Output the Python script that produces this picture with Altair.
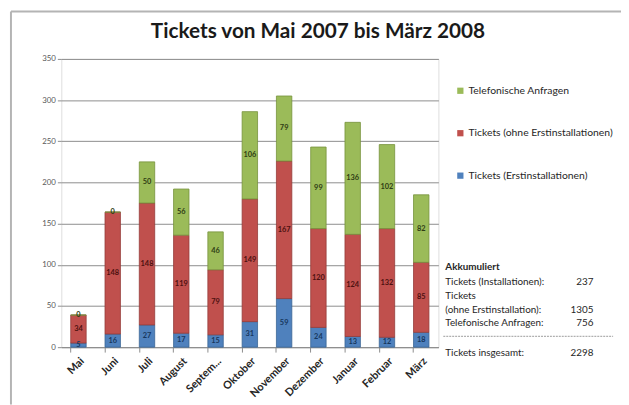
import altair as alt
import pandas as pd

months = ["Mai", "Juni", "Juli", "August", "September", "Oktober",
          "November", "Dezember", "Januar", "Februar", "März"]
erst = [5, 16, 27, 17, 15, 31, 59, 24, 13, 12, 18]
ohne = [34, 148, 148, 119, 79, 149, 167, 120, 124, 132, 85]
tel = [0, 0, 50, 56, 46, 106, 79, 99, 136, 102, 82]

series = ["Tickets (Erstinstallationen)", "Tickets (ohne Erstinstallationen)", "Telefonische Anfragen"]
colors = ["#4F81BD", "#C0504D", "#9BBB59"]
strokes = ["#3A6595", "#953B39", "#76923C"]
label_colors = ["#17375E", "#4D1010", "#2F3D14"]
y_ticks = [0, 50, 100, 150, 200, 250, 300, 350]
title_text = "Tickets von Mai 2007 bis März 2008"

rows = []
for i, m in enumerate(months):
    for k, vals in enumerate([erst, ohne, tel]):
        rows.append({"Monat": m, "Serie": series[k], "Wert": vals[i], "ord": k})
df = pd.DataFrame(rows)

FONT = "Lato"
W, H = 382, 292
leg_domain = list(reversed(series))

xenc = alt.X("Monat:N", sort=months,
             scale=alt.Scale(paddingInner=0.55, paddingOuter=0.275),
             axis=alt.Axis(title=None, labelAngle=-45, labelFontWeight="bold",
                           labelFontSize=11, labelColor="#262626", labelFont=FONT,
                           bandPosition=0, tickSize=5, tickColor="#8c8c8c",
                           domainColor="#8c8c8c", labelPadding=3,
                           labelExpr="datum.value == 'September' ? 'Septem...' : datum.value"))

base = alt.Chart(df).transform_stack(
    stack="Wert", groupby=["Monat"], as_=["y0", "y1"], sort=[alt.SortField("ord", order="ascending")]
).transform_calculate(mid="(datum.y0 + datum.y1) / 2")

bars = base.mark_bar(strokeWidth=0.8).encode(
    x=xenc,
    y=alt.Y("y0:Q", scale=alt.Scale(domain=[0, 350]),
            axis=alt.Axis(title=None, values=y_ticks, grid=True, gridColor="#8c8c8c",
                          labelFontSize=8, labelColor="#595959", labelFont=FONT,
                          tickSize=4, tickColor="#8c8c8c", domain=False, labelPadding=2)),
    y2="y1:Q",
    color=alt.Color("Serie:N", scale=alt.Scale(domain=leg_domain, range=list(reversed(colors))),
                    legend=alt.Legend(title=None, orient="none", legendX=399, legendY=27,
                                      symbolType="square", symbolSize=40, symbolStrokeWidth=0,
                                      labelFontSize=10.5, labelFont=FONT, labelColor="#262626",
                                      labelOffset=3, rowPadding=32, labelLimit=300)),
    stroke=alt.Stroke("Serie:N", scale=alt.Scale(domain=series, range=strokes), legend=None),
)

labels = base.mark_text(fontSize=7.5, fontWeight="bold", font=FONT).encode(
    x=alt.X("Monat:N", sort=months),
    y=alt.Y("mid:Q"),
    text=alt.Text("Wert:Q"),
    fill=alt.Fill("Serie:N", scale=alt.Scale(domain=series, range=label_colors), legend=None),
)

one = pd.DataFrame({"a": [0]})
AX = 389
NX = 539
ann_lines = [
    ("Akkumuliert", None, 211, "bold"),
    ("Tickets (Installationen):", sum(erst), 226, "normal"),
    ("Tickets", None, 240, "normal"),
    ("(ohne  Erstinstallation):", sum(ohne), 254, "normal"),
    ("Telefonische Anfragen:", sum(tel), 268, "normal"),
    ("Tickets insgesamt:", sum(erst) + sum(ohne) + sum(tel), 298, "normal"),
]
ann = []
for txt, num, yy, fw in ann_lines:
    ann.append(alt.Chart(one).mark_text(align="left", baseline="middle", fontSize=10,
                                        font=FONT, fontWeight=fw, color="#262626", text=txt)
               .encode(x=alt.value(AX), y=alt.value(yy)))
    if num is not None:
        ann.append(alt.Chart(one).mark_text(align="right", baseline="middle", fontSize=10,
                                            font=FONT, color="#262626", text=str(num))
                   .encode(x=alt.value(NX), y=alt.value(yy)))
ann.append(alt.Chart(one).mark_rule(color="#9a9a9a", strokeDash=[2, 1], strokeWidth=1)
           .encode(x=alt.value(387), x2=alt.value(559), y=alt.value(281)))
# title as text
ann.append(alt.Chart(one).mark_text(align="center", baseline="middle", fontSize=21,
                                    font=FONT, fontWeight="bold", color="#1a1a1a", text=title_text)
           .encode(x=alt.value(260), y=alt.value(-27)))
# outer frame (top and left edge)
ann.append(alt.Chart(one).mark_rule(color="#b4b4b4", strokeWidth=2)
           .encode(x=alt.value(-51), x2=alt.value(575), y=alt.value(-48)))
ann.append(alt.Chart(one).mark_rule(color="#b4b4b4", strokeWidth=2)
           .encode(x=alt.value(-51), y=alt.value(-48), y2=alt.value(350)))

chart = alt.layer(bars, labels, *ann).resolve_scale(
    color="independent", fill="independent", stroke="independent"
).properties(
    width=W, height=H,
    autosize=alt.AutoSizeParams(type="none"),
    padding={"left": 54, "top": 49, "right": 185, "bottom": 56},
).configure_view(fill="#e8e8e8", stroke="#a6a6a6", strokeWidth=1
).configure(background="white")

chart.save("out.html", embed_options={"renderer": "svg", "actions": False})
